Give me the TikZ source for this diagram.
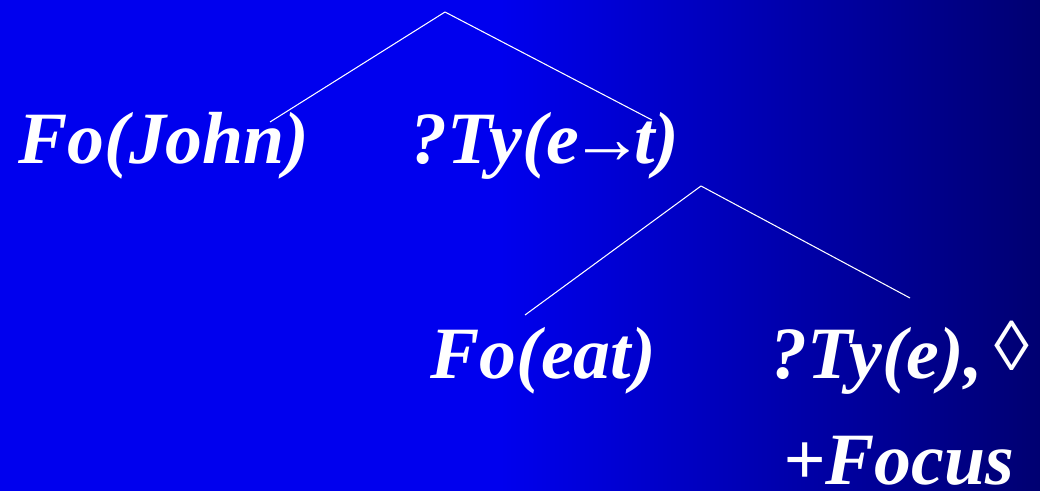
\documentclass[tikz,border=0pt]{standalone}
\usepackage{fontspec}
\setmainfont{Liberation Serif}
\usepackage{tikz}
\definecolor{bgleft}{RGB}{0,0,238}
\definecolor{bgright}{RGB}{0,0,112}

\begin{document}
\begin{tikzpicture}[x=0.02cm, y=-0.02cm, every node/.style={text=white, inner sep=0pt, anchor=base west, font=\fontsize{42}{44}\selectfont\bfseries\itshape}]

  % Background (solid on the left, fading to navy on the right)
  \useasboundingbox (0,0) rectangle (1040,490);
  \fill[bgleft] (-5,-5) rectangle (1045,495);
  \shade[left color=bgleft, right color=bgright] (500,-5) rectangle (1045,495);

  % Labels
  \node (john)  at (18,163)  {Fo(John)};
  \node (ety)   at (410,163) {?Ty(e\kern-5pt→\kern-6pt t)};
  \node (eat)   at (430,378) {Fo(eat)};
  \node (tye)   at (770,378) {?Ty(e),\,{\fontsize{40}{40}\selectfont\mdseries\raisebox{4pt}{◊}}};
  \node (focus) at (783,484) {+Focus};

  % Tree points
  \coordinate (root) at (445,12);
  \coordinate (mid)  at (701,186);
  \coordinate (rootL) at (270,122);
  \coordinate (rootR) at (652,120);
  \coordinate (midL) at (525,315);
  \coordinate (midR) at (910,298);

  % Branches
  \draw[white, line width=0.6pt] (root) -- (rootL);
  \draw[white, line width=0.6pt] (root) -- (rootR);
  \draw[white, line width=0.6pt] (mid) -- (midL);
  \draw[white, line width=0.6pt] (mid) -- (midR);

\end{tikzpicture}
\end{document}
